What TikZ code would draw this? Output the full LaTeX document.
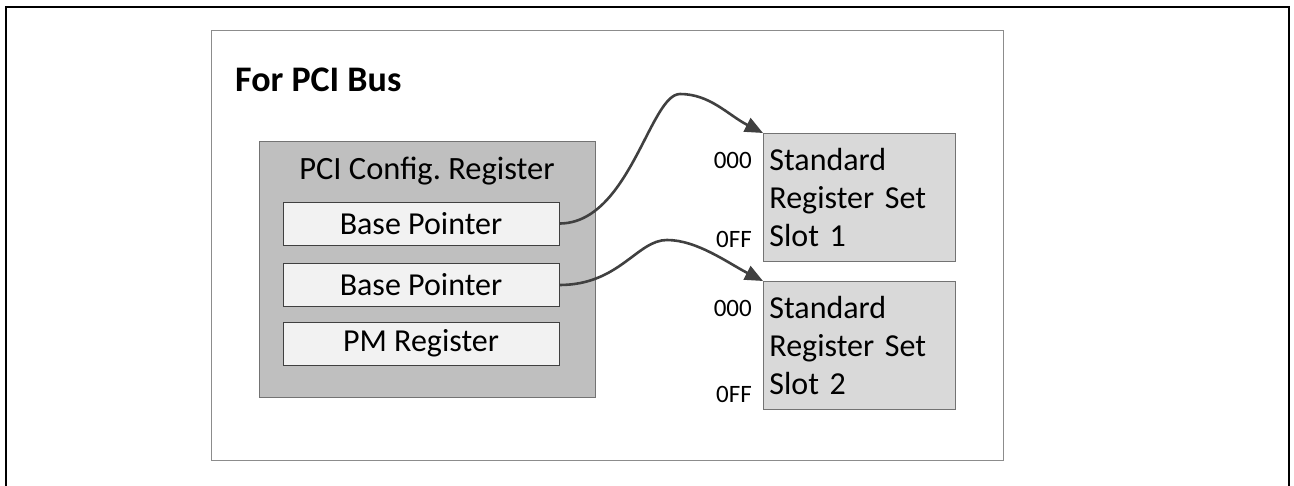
\documentclass[tikz,border=0pt]{standalone}
\usepackage{fontspec}
\setmainfont{Carlito}
\frenchspacing
\usetikzlibrary{arrows.meta}
\definecolor{cfgfill}{HTML}{BFBFBF}
\definecolor{cfgline}{HTML}{737373}
\definecolor{regfill}{HTML}{F2F2F2}
\definecolor{stdfill}{HTML}{D9D9D9}
\definecolor{linkcol}{HTML}{404040}
\begin{document}
\begin{tikzpicture}[x=1pt,y=-1pt,
  lbl/.style={inner sep=0pt, font=\fontsize{25}{30}\selectfont},
  reg/.style={draw=linkcol, fill=regfill, line width=0.9pt, minimum width=276pt, minimum height=43pt, inner sep=0pt, font=\fontsize{32}{38}\selectfont},
  std/.style={draw=cfgline, fill=stdfill, line width=0.9pt, minimum width=192pt, minimum height=128pt, anchor=north west, align=left, text width=180pt, inner xsep=6pt, inner ysep=0pt, font=\fontsize{32}{38}\selectfont},
  link/.style={draw=linkcol, line width=2.6pt, -{Triangle[length=18pt,width=15pt]}}
]
\useasboundingbox (0,0) rectangle (1294,485);
% outer border
\draw[line width=2.6pt] (6,490) -- (6,7) -- (1289,7) -- (1289,490);
% inner frame
\node[draw=black!45, line width=1.1pt, minimum width=792pt, minimum height=430pt, inner sep=0pt, anchor=north west] (frame) at (211,30) {};
\node[inner sep=0pt, anchor=base west, font=\fontsize{36}{42}\selectfont\bfseries] (title) at (235,91) {For PCI Bus};
% config register
\node[draw=cfgline, fill=cfgfill, line width=1pt, minimum width=336pt, minimum height=256pt, inner sep=0pt, anchor=north west] (cfg) at (259,141) {};
\node[inner sep=0pt, anchor=base, font=\fontsize{32.5}{38}\selectfont] (cfgt) at (427,179) {PCI Config. Register};
\node[reg] (bp1) at (421,223.5) {Base Pointer};
\node[reg] (bp2) at (421,285) {Base Pointer};
\node[reg] (pm) at (421,343.5) {PM Register};
% standard register sets
\node[std] (s1) at (763,133) {Standard\\Register Set\\Slot 1};
\node[std] (s2) at (763,281) {Standard\\Register Set\\Slot 2};
\node[lbl, anchor=base east] (a1) at (752,168) {000};
\node[lbl, anchor=base east] (b1) at (752,247) {0FF};
\node[lbl, anchor=base east] (a2) at (752,316) {000};
\node[lbl, anchor=base east] (b2) at (752,402) {0FF};
% links
\coordinate (p1) at (680,94);
\coordinate (p2) at (667,240);
\draw[link] (bp1.east) .. controls +(70,0) and +(-30,0) .. (p1) .. controls +(30,0) and +(-35,-18) .. (s1.north west);
\draw[link] (bp2.east) .. controls +(60,0) and +(-30,0) .. (p2) .. controls +(30,0) and +(-35,-18) .. (s2.north west);
\end{tikzpicture}
\end{document}
